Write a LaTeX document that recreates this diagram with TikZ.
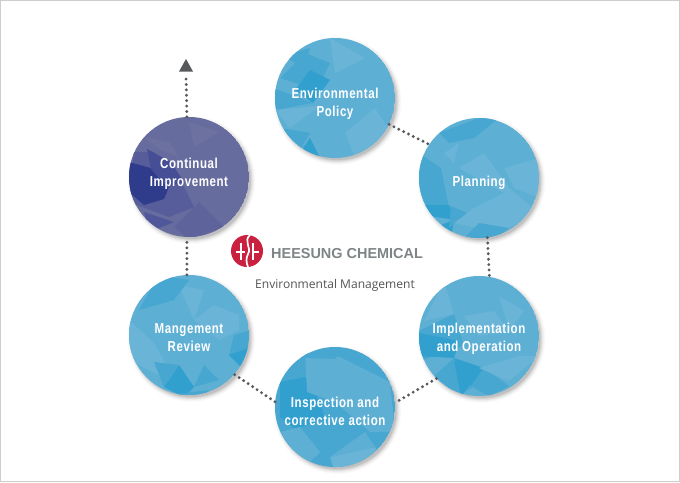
\documentclass[tikz,border=0pt]{standalone}
\usepackage{fontspec}
\setmainfont{Liberation Sans}
\newfontfamily\lblfont[FakeStretch=0.80,LetterSpace=4]{Liberation Sans Bold}
\newfontfamily\subfont{Open Sans}
\definecolor{blbase}{HTML}{5DAFD4}
\definecolor{bldark}{HTML}{32A0CE}
\definecolor{blmid}{HTML}{47A7D1}
\definecolor{bllight}{HTML}{6AB5D7}
\definecolor{pubase}{HTML}{676C9E}
\definecolor{pudark}{HTML}{2F3C8C}
\definecolor{pumid}{HTML}{50569A}
\definecolor{pulight}{HTML}{6D719F}
\definecolor{dotgray}{HTML}{58595B}
\definecolor{framegray}{HTML}{CDCDCD}
\definecolor{logored}{HTML}{C9213F}
\definecolor{logogray}{HTML}{7F8587}
\definecolor{subgray}{HTML}{555555}
\tikzset{
 x=1pt,y=-1pt,
 discshape/.style={circle,minimum size=120pt,inner sep=0pt},
 disclabel/.style={inner sep=0pt,text=white,align=center,font=\lblfont\fontsize{14.4}{18}\selectfont},
 dotline/.style={draw=dotgray,line width=3.2pt,line cap=round,dash pattern=on 0pt off 5.4pt},
 dk/.style={fill=bldark},
 md/.style={fill=blmid},
 lt/.style={fill=bllight},
 pd/.style={fill=pudark},
 pm/.style={fill=pumid},
 pl/.style={fill=pulight},
}
\newcommand{\disc}[7]{%
 \foreach \r/\o in {64/0.015,63/0.025,62/0.035,61/0.05,60/0.06,59/0.08}{\fill[black,opacity=\o] (#2+2.5,#3+3) circle (\r);}
 \begin{scope}
 \clip (#2,#3) circle (60);
 \fill[#4] (#2,#3) circle (60);
 \begin{scope}[shift={(#2,#3)}]#5\end{scope}
 \end{scope}
 \node[discshape] (#1) at (#2,#3) {};
 \node[disclabel] (#1-text) at (#2,#3+#7) {#6};
}
\begin{document}
\begin{tikzpicture}
\useasboundingbox (0,0) rectangle (680,482);
\fill[white] (0,0) rectangle (680,482);
\draw[framegray,line width=1pt] (0.5,0.5) rectangle (679.5,481.5);

\disc{policy}{335}{98}{blbase}{
 \fill[md] (-30,-45)--(-5,-35)--(-18,-8)--(-55,-20)--cycle;
 \fill[dk] (-25,-28)--(-5,-18)--(-22,5)--(-40,-8)--cycle;
 \fill[md] (-52,-42)--(-25,-50)--(-30,-30)--cycle;
 \fill[md] (-62,-10)--(-22,5)--(-60,12)--cycle;
 \fill[dk] (-40,62)--(-15,60)--(-25,40)--cycle;
 \fill[md] (-55,30)--(-25,35)--(-40,60)--cycle;
 \fill[lt] (-60,12)--(-15,8)--(-45,30)--cycle;
 \fill[lt] (-5,-60)--(30,-40)--(0,-25)--cycle;
 \fill[lt] (10,35)--(40,10)--(60,40)--(20,60)--cycle;
}{Environmental\\Policy}{6}

\disc{planning}{479}{178}{blbase}{
 \fill[md] (-60,-25)--(-38,-10)--(-30,30)--(-60,28)--cycle;
 \fill[dk] (-60,27)--(-30,27)--(-22,42)--(-50,38)--cycle;
 \fill[dk] (-38,47)--(-25,42)--(-28,60)--cycle;
 \fill[md] (-28,28)--(-12,35)--(-30,50)--cycle;
 \fill[md] (-40,-45)--(0,-60)--(20,-60)--(-5,-40)--(-30,-35)--cycle;
 \fill[lt] (-35,-25)--(-20,-35)--(-25,-15)--cycle;
 \fill[lt] (5,-25)--(30,10)--(60,35)--(20,55)--(-25,45)--(-5,30)--(25,15)--(-20,-10)--cycle;
 \fill[lt] (25,-10)--(60,-20)--(60,20)--(35,10)--cycle;
 \fill[md] (-15,60)--(0,45)--(30,50)--(10,65)--cycle;
}{Planning}{5}

\disc{impl}{479}{336}{blbase}{
 \fill[md] (-60,-5)--(-25,-22)--(-15,10)--(-60,25)--cycle;
 \fill[dk] (-60,-3)--(-20,5)--(-25,22)--(-60,20)--cycle;
 \fill[md] (-45,40)--(-25,22)--(-5,50)--(-20,60)--cycle;
 \fill[dk] (-25,25)--(-2,40)--(-18,60)--cycle;
 \fill[dk] (-25,22)--(5,32)--(-8,50)--cycle;
 \fill[md] (-8,50)--(5,32)--(30,50)--(10,60)--cycle;
 \fill[lt] (-35,-55)--(-25,-22)--(-55,-15)--cycle;
 \fill[lt] (-15,-20)--(15,-25)--(30,-5)--(0,0)--cycle;
 \fill[lt] (20,-40)--(45,-25)--(30,-5)--cycle;
 \fill[lt] (0,32)--(40,20)--(60,20)--(30,45)--cycle;
}{Implementation\\and Operation}{3}

\disc{inspect}{335}{407}{blmid}{
 \fill[dk] (-55,-25)--(-30,-30)--(-15,-5)--(-10,12)--(-40,22)--(-55,10)--cycle;
 \fill[blbase] (-30,-55)--(5,-50)--(55,-25)--(60,25)--(35,25)--(0,-5)--(-28,-15)--cycle;
 \fill[bllight] (-5,50)--(40,40)--(50,55)--(0,65)--cycle;
 \fill[blbase] (-55,25)--(-35,20)--(-15,45)--(-30,60)--cycle;
 \fill[blbase] (-5,50)--(30,25)--(40,40)--cycle;
 \fill[md] (-50,-50)--(5,-58)--(0,-48)--cycle;
}{Inspection and\\corrective action}{4}

\disc{review}{189}{335}{blbase}{
 \fill[lt] (-60,25)--(-35,8)--(-20,35)--(-30,40)--cycle;
 \fill[lt] (5,-15)--(25,-30)--(50,-20)--(50,-5)--(30,5)--cycle;
 \fill[lt] (-10,-50)--(15,-45)--(5,-15)--cycle;
 \fill[md] (-30,-60)--(0,-55)--(-15,-35)--(-50,-25)--cycle;
 \fill[md] (45,0)--(62,-5)--(60,20)--(40,20)--cycle;
 \fill[dk] (40,20)--(60,13)--(55,35)--cycle;
 \fill[dk] (-25,52)--(-10,30)--(5,52)--(-5,62)--cycle;
 \fill[md] (-35,27)--(-10,30)--(-25,52)--cycle;
 \fill[md] (5,52)--(15,30)--(30,45)--cycle;
 \fill[md] (-20,60)--(20,55)--(15,65)--cycle;
 \fill[lt] (-60,-15)--(-35,8)--(-60,25)--cycle;
}{Mangement\\Review}{3}

\disc{improve}{189}{177}{pubase}{
 \fill[pumid!70!pubase] (-55,-25)--(-35,-25)--(-10,0)--(5,30)--(-20,40)--(-60,25)--cycle;
 \fill[pd] (-60,-15)--(-35,-8)--(-20,10)--(-25,22)--(-45,28)--(-60,15)--cycle;
 \fill[pumid!70!pudark] (-42,-28)--(-18,-15)--(-5,5)--(-22,10)--(-38,-8)--cycle;
 \fill[pm] (-45,35)--(-15,45)--(-40,55)--cycle;
 \fill[pl] (-45,-40)--(-20,-35)--(-10,-20)--(-30,-28)--cycle;
 \fill[pl] (0,-55)--(30,-45)--(5,-30)--cycle;
 \fill[pumid!40!pubase] (10,25)--(35,50)--(0,62)--(-15,50)--cycle;
}{Continual\\Improvement}{-3}

% logo
\node[circle,fill=logored,minimum size=32pt,inner sep=0pt] (logo) at (247,251) {};
\draw[white,line width=1.4pt] (241,243)--(241,260) (236,252)--(245,252)
  (253,243)--(253,260) (253,252)--(259,252);
\draw[white,line width=1.7pt] (250,235) .. controls (243,241) and (252,248) .. (248,254) .. controls (246,258) and (246,262) .. (248,267);
\node[anchor=base west,inner sep=0pt,text=logogray] (brand) at (271,258) {\fontsize{14.45}{16}\selectfont\bfseries HEESUNG CHEMICAL};
\node[anchor=base,inner sep=0pt,text=subgray] (sub) at (335,288) {\subfont\fontsize{12.05}{14}\selectfont Environmental Management};

% connectors
\draw[dotline] (policy.-26) -- (planning.146);
\draw[dotline] (planning.-82) -- (impl.80);
\draw[dotline] (impl.225) -- (inspect.4);
\draw[dotline] (inspect.175) -- (review.-41);
\draw[dotline] (review.92) -- (improve.-92);
\coordinate (tipbase) at (186,75);
\draw[dotline] (improve.92) -- (tipbase);
\fill[dotgray] (179,71.5)--(193,71.5)--(186,59)--cycle;
\end{tikzpicture}
\end{document}
